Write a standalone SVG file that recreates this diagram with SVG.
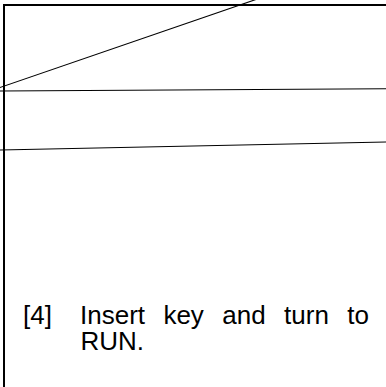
<svg xmlns="http://www.w3.org/2000/svg" width="386" height="387" viewBox="0 0 386 387">
<style>
.frame{fill:none;stroke:#000;stroke-width:2}
.ln{stroke:#000;stroke-width:1.1;fill:none}
.t{font-family:"Liberation Sans",Arial,sans-serif;font-size:26px;fill:#000}
</style>
<rect width="386" height="387" fill="#fff"/>
<g id="panel">
<path class="frame" d="M4,395 V5 H395"/>
</g>
<g id="connectors">
<line class="ln" x1="-2" y1="88.2" x2="262" y2="-2.6"/>
<line class="ln" x1="0" y1="91" x2="386" y2="88.7"/>
<line class="ln" x1="0" y1="150" x2="386" y2="142"/>
</g>
<g id="step4" class="t">
<text x="23" y="323.5">[4]</text>
<text y="323.5"><tspan x="80">Insert</tspan><tspan x="163.4">key</tspan><tspan x="222.3">and</tspan><tspan x="284.1">turn</tspan><tspan x="347.3">to</tspan><tspan x="80.5" y="350">RUN.</tspan></text>
</g>
</svg>
